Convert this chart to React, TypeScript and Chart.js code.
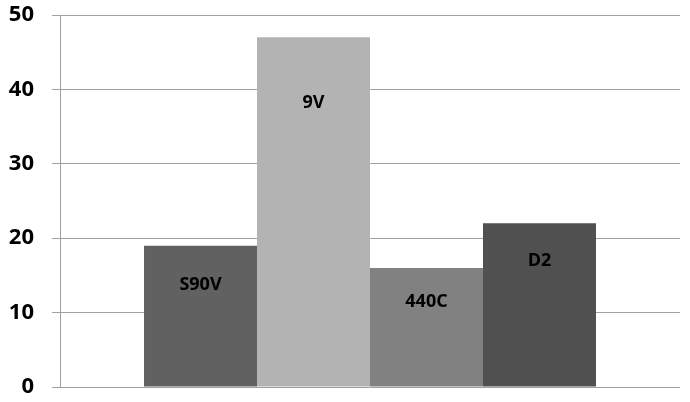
import React, { useEffect, useRef } from "react";
import { Chart, registerables } from "chart.js";

Chart.register(...registerables);

const categories = ["S90V", "9V", "440C", "D2"];
const values = [19, 47, 16, 22];
const barColors = ["#616161", "#b3b3b3", "#818181", "#505050"];
// value at which each in-bar label is centred (as placed in the reference)
const labelAnchors = [13.7, 38.2, 11.4, 16.9];
const yTicks = [0, 10, 20, 30, 40, 50];

const FONT = "'Open Sans', 'Liberation Sans', sans-serif";

export default function App() {
  const ref = useRef<HTMLCanvasElement | null>(null);

  useEffect(() => {
    document.body.style.margin = "0";
    const canvas = ref.current;
    if (!canvas) return;

    const labelPlugin = {
      id: "barLabels",
      afterDatasetsDraw(chart: any) {
        const ctx = chart.ctx;
        const yScale = chart.scales.y;
        ctx.save();
        ctx.font = `bold 18px ${FONT}`;
        ctx.fillStyle = "#000000";
        ctx.textAlign = "center";
        ctx.textBaseline = "middle";
        chart.data.datasets.forEach((ds: any, i: number) => {
          const meta = chart.getDatasetMeta(i);
          const el = meta.data[0];
          if (!el) return;
          ctx.fillText(ds.label, el.x, yScale.getPixelForValue(labelAnchors[i]));
        });
        ctx.restore();
      },
    };

    const chart = new Chart(canvas, {
      type: "bar",
      data: {
        labels: [""],
        datasets: categories.map((c, i) => ({
          label: c,
          data: [values[i]],
          backgroundColor: barColors[i],
          borderWidth: 0,
          categoryPercentage: 0.729,
          barPercentage: 1,
        })),
      },
      options: {
        responsive: false,
        animation: false,
        layout: { padding: { top: 0, bottom: 0, right: 10, left: 0 } },
        plugins: {
          legend: { display: false },
          tooltip: { enabled: false },
        },
        scales: {
          x: { display: false },
          y: {
            min: 0,
            max: 50,
            afterFit: (scale: any) => {
              scale.width = 60;
              scale.paddingTop = 15;
              scale.paddingBottom = 15;
            },
            afterBuildTicks: (scale: any) => {
              scale.ticks = yTicks.map((v) => ({ value: v }));
            },
            border: { display: true, color: "#a0a0a0", width: 1 },
            grid: {
              color: "#a0a0a0",
              lineWidth: 1,
              tickLength: 8,
              drawTicks: true,
            },
            ticks: {
              padding: 18,
              color: "#000000",
              font: { family: FONT, size: 22, weight: "bold" },
            },
          },
        },
      },
      plugins: [labelPlugin],
    });

    return () => chart.destroy();
  }, []);

  return (
    <div style={{ width: 690, height: 402 }}>
      <canvas ref={ref} width={690} height={402} />
    </div>
  );
}
